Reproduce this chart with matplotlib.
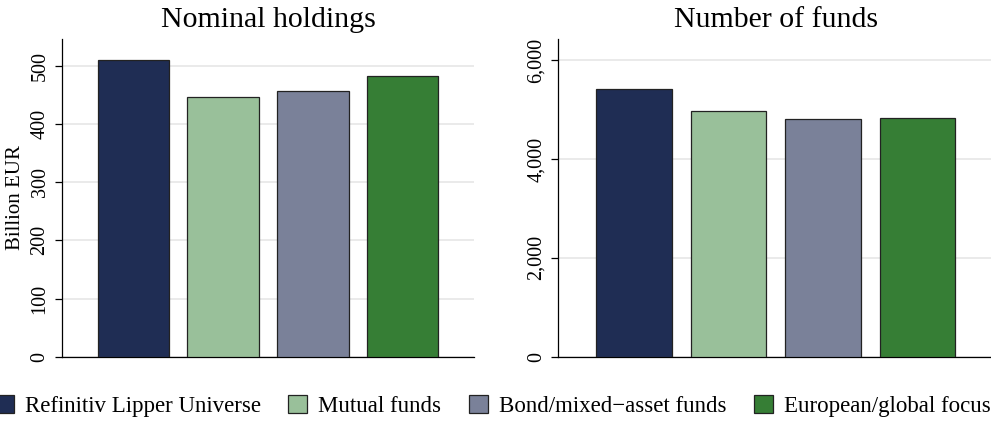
import matplotlib
matplotlib.use("Agg")
import matplotlib.pyplot as plt
from matplotlib.patches import Patch
from matplotlib.ticker import FuncFormatter

plt.rcParams['font.family'] = ['Liberation Serif', 'DejaVu Serif']

categories = ["Refinitiv Lipper Universe", "Mutual funds",
              "Bond/mixed\u2212asset funds", "European/global focus"]
holdings = [510, 447, 457, 483]
funds = [5413, 4980, 4818, 4838]
colors = ["#1f2d54", "#99c09a", "#7a8199", "#367e35"]

left_ticks = [0, 100, 200, 300, 400, 500]
right_ticks = [0, 2000, 4000, 6000]

W, H = 991, 423
fig = plt.figure(figsize=(W / 100, H / 100), dpi=100)

def frac(x0, x1, ytop, ybot):
    return [x0 / W, (H - ybot) / H, (x1 - x0) / W, (ybot - ytop) / H]

ax1 = fig.add_axes(frac(62, 474, 39.3, 356.7))
ax2 = fig.add_axes(frac(558.3, 993, 39.3, 356.7))

xs = [1, 2, 3, 4]
for ax, vals, ticks, top, title in [
    (ax1, holdings, left_ticks, 546, "Nominal holdings"),
    (ax2, funds, right_ticks, 6425, "Number of funds"),
]:
    ax.bar(xs, vals, width=0.8, color=colors, edgecolor="#222222",
           linewidth=0.9, zorder=3)
    ax.set_xlim(0.2, 4.8)
    ax.set_ylim(0, top)
    ax.set_yticks(ticks)
    ax.set_xticks([])
    ax.grid(axis="y", color="#e6e6e6", linewidth=1.2, zorder=0)
    for s in ["top", "right"]:
        ax.spines[s].set_visible(False)
    for s in ["left", "bottom"]:
        ax.spines[s].set_linewidth(0.9)
        ax.spines[s].set_color("black")
    ax.tick_params(axis="y", length=5, width=0.9, pad=4, labelsize=14.5)
    ax.set_title(title, fontsize=21.5, pad=9)

ax2.yaxis.set_major_formatter(FuncFormatter(lambda v, p: f"{int(v):,}"))
for ax in (ax1, ax2):
    for lab in ax.get_yticklabels():
        lab.set_rotation(90)
        lab.set_va("center")

ax1.set_ylabel("Billion EUR", fontsize=15, labelpad=4)

handles = [Patch(facecolor=c, edgecolor="#222222", linewidth=0.9) for c in colors]
fig.legend(handles, categories, loc="center", bbox_to_anchor=(0.497, 0.04),
           ncol=4, frameon=False, fontsize=16.5, handlelength=0.83,
           handleheight=0.83, handletextpad=0.48, columnspacing=1.2,
           borderaxespad=0, borderpad=0)

fig.savefig("out.png", dpi=100)
